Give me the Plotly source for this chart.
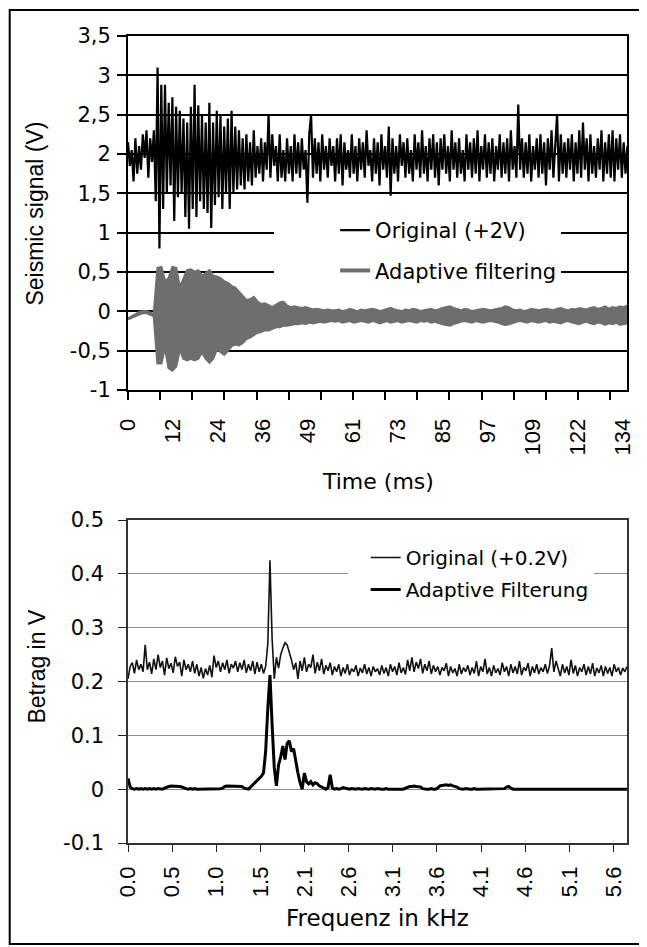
import plotly.graph_objects as go

# ---- top panel: seismic signal over time ----
time_step_ms = 0.5
original_signal = [
    2.15, 1.85, 2.05, 1.65, 2.2, 1.75, 2.1, 1.8, 2.25, 1.95, 2.3, 1.7, 2.2, 1.9, 2.3,
    1.4, 3.1, 0.8, 2.88, 1.3, 2.88, 1.5, 2.65, 1.6, 2.72, 1.15, 2.6, 1.45, 2.55, 1.5,
    2.45, 1.2, 2.4, 1.05, 2.6, 1.3, 2.88, 1.2, 2.62, 1.4, 2.5, 1.3, 2.4, 1.25, 2.65,
    1.06, 2.4, 1.35, 2.55, 1.45, 2.5, 1.3, 2.35, 1.5, 2.45, 1.3, 2.55, 1.5, 2.35, 1.55, 2.3,
    1.6, 2.2, 1.55, 2.25, 1.65, 2.15, 1.6, 2.3, 1.7, 2.1,
    1.75, 2.2, 1.65, 2.15, 1.8, 2.5, 1.7, 2.25, 1.85, 2.1,
    1.65, 2.25, 1.7, 2.05, 1.65, 2.2, 1.75, 2.1, 1.65, 2.25,
    1.75, 2.15, 1.7, 2.2, 1.8, 2.05, 1.38, 2.25, 2.5, 1.7,
    2.2, 1.75, 2.15, 1.65, 2.25, 1.8, 2.1, 1.7, 2.2, 1.85,
    2.1, 1.65, 2.2, 1.75, 2.25, 1.6, 2.15, 1.8, 2.05, 1.7,
    2.25, 1.75, 2.1, 1.65, 2.2, 1.8, 2.15, 1.7, 2.3, 1.85,
    2.05, 1.65, 2.2, 1.75, 2.15, 1.6, 2.25, 1.8, 2.1, 1.7,
    2.35, 1.47, 2.2, 1.75, 2.1, 1.65, 2.25, 1.85, 2.15, 1.7,
    2.2, 1.75, 2.05, 1.65, 2.25, 1.8, 2.15, 1.7, 2.3, 1.75,
    2.1, 1.65, 2.2, 1.8, 2.25, 1.7, 2.15, 1.6, 2.2, 1.8,
    2.25, 1.75, 2.1, 1.65, 2.3, 1.8, 2.15, 1.7, 2.2, 1.75,
    2.05, 1.65, 2.25, 1.8, 2.15, 1.7, 2.2, 1.75, 2.3, 1.65,
    2.1, 1.8, 2.25, 1.7, 2.15, 1.75, 2.2, 1.65, 2.1, 1.8,
    2.25, 1.7, 2.15, 1.75, 2.2, 1.65, 2.3, 1.8, 2.1, 1.7,
    2.63, 1.8, 2.2, 1.7, 2.15, 1.75, 2.25, 1.65, 2.1, 1.8,
    2.2, 1.7, 2.25, 1.75, 2.15, 1.6, 2.2, 1.8, 2.3, 1.7,
    2.1, 2.5, 1.65, 2.25, 1.75, 2.15, 1.7, 2.2, 1.8, 2.25,
    1.65, 2.15, 1.75, 2.3, 1.7, 2.4, 1.8, 2.2, 1.65, 2.25,
    1.75, 2.1, 1.7, 2.2, 1.8, 2.3, 1.65, 2.15, 1.75, 2.25,
    1.7, 2.3, 1.65, 2.2, 1.8, 2.25, 1.7, 2.15, 1.75, 2.1,
]

# adaptive filtering output: upper / lower edge of the dense oscillation, 1 ms apart
envelope_step_ms = 1.0
adaptive_upper = [
    -0.09, -0.07, -0.04, -0.01, 0.0, 0.0, -0.02, -0.04,
    0.55, 0.56, 0.38, 0.42, 0.56, 0.55, 0.3, 0.4, 0.52, 0.53, 0.5, 0.52,
    0.45, 0.48, 0.52, 0.45, 0.44, 0.42, 0.38, 0.36, 0.32, 0.3, 0.25, 0.2,
    0.14, 0.15, 0.18, 0.12, 0.09, 0.1, 0.07, 0.05, 0.08, 0.11, 0.12, 0.07,
    0.05, 0.06, 0.05, 0.04, 0.05, 0.03, 0.02, 0.03, 0.02, 0.01, 0.02, 0.01,
    0.01, 0.02, 0.0, 0.01, 0.03, 0.01, 0.0, 0.02, 0.01, 0.02,
    0.03, 0.02, 0.0, 0.01, 0.03, 0.04, 0.02, 0.01, 0.0, 0.02,
    0.01, 0.03, 0.02, 0.0, 0.01, 0.02, 0.03, 0.01, 0.02, 0.04,
    0.05, 0.06, 0.04, 0.02, 0.01, 0.03, 0.02, 0.0, 0.01, 0.02,
    0.03, 0.02, 0.01, 0.02, 0.03, 0.04, 0.06, 0.05, 0.02, 0.01,
    0.02, 0.0, 0.01, 0.03, 0.02, 0.01, 0.02, 0.03, 0.02, 0.01,
    0.03, 0.04, 0.02, 0.01, 0.03, 0.02, 0.04, 0.03, 0.02, 0.04,
    0.05, 0.03, 0.04, 0.06, 0.03, 0.05, 0.04, 0.06, 0.05, 0.07,
]
adaptive_lower = [
    -0.1, -0.08, -0.06, -0.03, -0.02, -0.02, -0.04, -0.06,
    -0.66, -0.66, -0.45, -0.72, -0.75, -0.7, -0.48, -0.6, -0.62, -0.6, -0.62, -0.6,
    -0.52, -0.6, -0.65, -0.6, -0.48, -0.52, -0.55, -0.5, -0.44, -0.42, -0.43, -0.4,
    -0.35, -0.33, -0.3, -0.27, -0.26, -0.24, -0.24, -0.22, -0.2, -0.2, -0.18, -0.18,
    -0.17, -0.16, -0.16, -0.15, -0.16, -0.14, -0.15, -0.14, -0.13, -0.14, -0.13, -0.12,
    -0.13, -0.12, -0.14, -0.13, -0.12, -0.14, -0.13, -0.12, -0.13, -0.14,
    -0.12, -0.13, -0.15, -0.13, -0.12, -0.14, -0.13, -0.12, -0.14, -0.13,
    -0.12, -0.13, -0.14, -0.12, -0.13, -0.12, -0.14, -0.13, -0.15, -0.16,
    -0.17, -0.18, -0.16, -0.14, -0.13, -0.12, -0.13, -0.14, -0.12, -0.13,
    -0.14, -0.13, -0.12, -0.13, -0.14, -0.16, -0.17, -0.16, -0.14, -0.13,
    -0.12, -0.13, -0.14, -0.12, -0.13, -0.14, -0.13, -0.12, -0.14, -0.13,
    -0.14, -0.15, -0.13, -0.12, -0.14, -0.15, -0.16, -0.14, -0.13, -0.15,
    -0.16, -0.14, -0.15, -0.17, -0.15, -0.16, -0.14, -0.17, -0.16, -0.15,
]

time_tick_vals = [0, 12.15, 24.3, 36.45, 48.6, 60.75, 72.9, 85.05, 97.2, 109.35, 121.5, 133.65]
time_tick_text = ["0", "12", "24", "36", "49", "61", "73", "85", "97", "109", "122", "134"]
signal_tick_vals = [-1, -0.5, 0, 0.5, 1, 1.5, 2, 2.5, 3, 3.5]
signal_tick_text = ["-1", "-0,5", "0", "0,5", "1", "1,5", "2", "2,5", "3", "3,5"]

# ---- bottom panel: amplitude spectrum ----
freq_step_khz = 0.025
spectrum_original = [
    0.205, 0.228, 0.235, 0.215, 0.24, 0.222, 0.232, 0.218, 0.268, 0.222,
    0.236, 0.214, 0.242, 0.222, 0.25, 0.226, 0.238, 0.212, 0.244, 0.224,
    0.234, 0.216, 0.246, 0.228, 0.236, 0.21, 0.24, 0.222, 0.232, 0.218,
    0.238, 0.215, 0.232, 0.21, 0.226, 0.206, 0.224, 0.212, 0.23, 0.208,
    0.248, 0.226, 0.238, 0.218, 0.235, 0.222, 0.24, 0.215, 0.232, 0.225,
    0.238, 0.218, 0.235, 0.222, 0.24, 0.216, 0.232, 0.22, 0.238, 0.214,
    0.236, 0.218, 0.232, 0.215, 0.228, 0.27, 0.425, 0.28, 0.205, 0.245,
    0.225, 0.25, 0.262, 0.272, 0.268, 0.255, 0.24, 0.222, 0.235, 0.205,
    0.238, 0.22, 0.245, 0.218, 0.232, 0.226, 0.25, 0.215, 0.236, 0.22,
    0.242, 0.214, 0.23, 0.22, 0.235, 0.212, 0.228, 0.218, 0.232, 0.21,
    0.226, 0.215, 0.232, 0.212, 0.224, 0.218, 0.23, 0.21, 0.225, 0.216,
    0.232, 0.214, 0.226, 0.21, 0.228, 0.218, 0.224, 0.212, 0.23, 0.215,
    0.226, 0.21, 0.232, 0.218, 0.228, 0.212, 0.235, 0.216, 0.226, 0.213,
    0.24, 0.22, 0.245, 0.218, 0.236, 0.224, 0.242, 0.215, 0.232, 0.22,
    0.238, 0.214, 0.23, 0.218, 0.228, 0.212, 0.226, 0.22, 0.234, 0.21,
    0.228, 0.216, 0.224, 0.21, 0.232, 0.214, 0.226, 0.218, 0.23, 0.212,
    0.226, 0.215, 0.238, 0.21, 0.228, 0.218, 0.242, 0.214, 0.226, 0.21,
    0.23, 0.216, 0.224, 0.212, 0.235, 0.218, 0.228, 0.21, 0.232, 0.216,
    0.228, 0.214, 0.238, 0.212, 0.226, 0.22, 0.234, 0.21, 0.228, 0.216,
    0.232, 0.214, 0.226, 0.218, 0.232, 0.215, 0.23, 0.262, 0.218, 0.238,
    0.226, 0.21, 0.232, 0.216, 0.228, 0.212, 0.24, 0.215, 0.23, 0.21,
    0.226, 0.218, 0.232, 0.212, 0.228, 0.214, 0.234, 0.21, 0.225, 0.216,
    0.23, 0.21, 0.228, 0.215, 0.226, 0.21, 0.232, 0.218, 0.226, 0.212,
    0.225, 0.218, 0.228,
]
spectrum_adaptive = [
    0.02, 0.004, 0.001, 0.0, 0.001, 0.0, 0.001, 0.0, 0.001, 0.0,
    0.001, 0.0, 0.001, 0.0, 0.001, 0.001, 0.0, 0.002, 0.004, 0.005,
    0.006, 0.006, 0.005, 0.006, 0.005, 0.004, 0.002, 0.001, 0.0, 0.001,
    0.0, 0.001, 0.0, 0.0, 0.001, 0.0, 0.001, 0.0, 0.0, 0.001,
    0.0, 0.001, 0.0, 0.001, 0.002, 0.005, 0.006, 0.006, 0.005, 0.006,
    0.006, 0.005, 0.006, 0.005, 0.002, 0.001, 0.0, 0.004, 0.008, 0.012,
    0.016, 0.02, 0.024, 0.03, 0.07, 0.15, 0.212, 0.12, 0.04, 0.006,
    0.045, 0.06, 0.08, 0.055, 0.085, 0.09, 0.07, 0.075, 0.05, 0.03,
    0.012, 0.0, 0.03, 0.014, 0.01, 0.014, 0.008, 0.012, 0.01, 0.006,
    0.004, 0.002, 0.0, 0.003, 0.027, 0.002, 0.0, 0.001, 0.0, 0.001,
    0.003, 0.002, 0.001, 0.0, 0.001, 0.0, 0.0, 0.001, 0.0, 0.0,
    0.001, 0.0, 0.0, 0.001, 0.0, 0.0, 0.001, 0.0, 0.0, 0.0,
    0.001, 0.0, 0.0, 0.001, 0.0, 0.0, 0.0, 0.001, 0.0, 0.002,
    0.004, 0.005, 0.005, 0.006, 0.005, 0.005, 0.004, 0.001, 0.0, 0.0,
    0.0, 0.001, 0.0, 0.0, 0.002, 0.006, 0.007, 0.008, 0.008, 0.007,
    0.008, 0.006, 0.005, 0.004, 0.001, 0.0, 0.0, 0.001, 0.0, 0.0,
    0.0, 0.001, 0.0, 0.0, 0.001, 0.0, 0.0, 0.0, 0.001, 0.0,
    0.0, 0.0, 0.001, 0.0, 0.0, 0.001, 0.004, 0.005, 0.002, 0.0,
    0.0, 0.0, 0.001, 0.0, 0.0, 0.0, 0.001, 0.0, 0.0, 0.0,
    0.0, 0.001, 0.0, 0.0, 0.0, 0.0, 0.001, 0.0, 0.0, 0.0,
    0.001, 0.0, 0.0, 0.0, 0.001, 0.0, 0.0, 0.0, 0.0, 0.001,
    0.0, 0.0, 0.0, 0.001, 0.0, 0.0, 0.0, 0.0, 0.001, 0.0,
    0.0, 0.0, 0.001, 0.0, 0.0, 0.0, 0.0, 0.001, 0.0, 0.0,
    0.0, 0.001, 0.0,
]

freq_tick_vals = [0, 0.513, 1.026, 1.539, 2.052, 2.565, 3.078, 3.591, 4.104, 4.617, 5.13, 5.643]
freq_tick_text = ["0.0", "0.5", "1.0", "1.5", "2.1", "2.6", "3.1", "3.6", "4.1", "4.6", "5.1", "5.6"]
amp_tick_vals = [-0.1, 0, 0.1, 0.2, 0.3, 0.4, 0.5]
amp_tick_text = ["-0.1", "0", "0.1", "0.2", "0.3", "0.4", "0.5"]

time_ms = [i * time_step_ms for i in range(len(original_signal))]
envelope_ms = [i * envelope_step_ms for i in range(len(adaptive_upper))]
freq_khz = [i * freq_step_khz for i in range(len(spectrum_original))]

# page geometry: the html body adds an 8 px margin, so the figure is shrunk by that
PAGE_W, PAGE_H = 647, 947
BODY = 8
FIG_W, FIG_H = PAGE_W - BODY, PAGE_H - BODY
PLOT_LEFT, PLOT_RIGHT, PLOT_TOP, PLOT_BOTTOM = 128, 630, 36, 843  # page pixels
M_L, M_T = PLOT_LEFT - BODY, PLOT_TOP - BODY
M_R, M_B = PAGE_W - PLOT_RIGHT, PAGE_H - PLOT_BOTTOM
PLOT_W = PLOT_RIGHT - PLOT_LEFT
PLOT_H = PLOT_BOTTOM - PLOT_TOP


def px_x(px):
    return (px - PLOT_LEFT) / PLOT_W


def px_y(py):
    return (PLOT_BOTTOM - py) / PLOT_H


GREY = "#6e6e6e"
WIDE = "DejaVu Sans"
NARROW = "Liberation Sans, Arial, sans-serif"

fig = go.Figure()

fig.add_trace(go.Scatter(
    x=time_ms, y=original_signal, mode="lines",
    line=dict(color="black", width=2.2),
    name="Original (+2V)", legend="legend", legendgroup="orig",
))
fig.add_trace(go.Scatter(
    x=envelope_ms, y=adaptive_upper, mode="lines",
    line=dict(color=GREY, width=2.5), showlegend=False, hoverinfo="skip",
))
fig.add_trace(go.Scatter(
    x=envelope_ms, y=adaptive_lower, mode="lines", fill="tonexty", fillcolor=GREY,
    line=dict(color=GREY, width=2.5), showlegend=False, hoverinfo="skip",
))
# legend entry for the filtered band
fig.add_trace(go.Scatter(
    x=[None], y=[None], mode="lines", line=dict(color=GREY, width=4),
    name="Adaptive filtering", legend="legend", legendgroup="adapt",
))

fig.add_trace(go.Scatter(
    x=freq_khz, y=spectrum_original, mode="lines", xaxis="x2", yaxis="y2",
    line=dict(color="#111111", width=1.6),
    name="Original (+0.2V)", legend="legend2", legendgroup="orig2",
))
fig.add_trace(go.Scatter(
    x=freq_khz, y=spectrum_adaptive, mode="lines", xaxis="x2", yaxis="y2",
    line=dict(color="black", width=3),
    name="Adaptive Filterung", legend="legend2", legendgroup="adapt2",
))

fig.update_layout(
    width=FIG_W, height=FIG_H,
    margin=dict(l=M_L, r=M_R, t=M_T, b=M_B),
    paper_bgcolor="white", plot_bgcolor="white",
    xaxis=dict(
        domain=[0, 1], anchor="y", range=[0, 134.9],
        tickmode="array", tickvals=time_tick_vals, ticktext=time_tick_text,
        tickangle=-90, ticks="outside", ticklen=8, tickcolor="rgba(0,0,0,0)",
        ticklabelstandoff=10,
        minor=dict(ticks="outside", ticklen=8, tickwidth=2, tickcolor="black",
                   tick0=0, dtick=8.69, showgrid=False),
        showgrid=False, zeroline=False,
        showline=True, linecolor="black", linewidth=2, mirror=True,
        tickfont=dict(family=NARROW, size=22, color="black"),
    ),
    yaxis=dict(
        domain=[px_y(390), 1], anchor="x", range=[-1, 3.5],
        tickmode="array", tickvals=signal_tick_vals, ticktext=signal_tick_text,
        ticks="outside", ticklen=9, tickwidth=2, tickcolor="black",
        ticklabelstandoff=2,
        showgrid=True, gridcolor="black", gridwidth=2, zeroline=False,
        showline=True, linecolor="black", linewidth=2, mirror=True,
        tickfont=dict(family=WIDE, size=21, color="black"),
    ),
    xaxis2=dict(
        domain=[0, 1], anchor="y2", range=[0, 5.8],
        tickmode="array", tickvals=freq_tick_vals, ticktext=freq_tick_text,
        tickangle=-90, ticks="outside", ticklen=7, tickwidth=1.2, tickcolor="#222222",
        ticklabelstandoff=6,
        showgrid=False, zeroline=False,
        showline=True, linecolor="#333333", linewidth=1.5, mirror=True,
        tickfont=dict(family=NARROW, size=22, color="black"),
    ),
    yaxis2=dict(
        domain=[0, px_y(520)], anchor="x2", range=[-0.1, 0.5],
        tickmode="array", tickvals=amp_tick_vals, ticktext=amp_tick_text,
        ticks="outside", ticklen=8, tickwidth=1.2, tickcolor="#222222",
        ticklabelstandoff=10,
        showgrid=True, gridcolor="#8a8a8a", gridwidth=1, zeroline=False,
        showline=True, linecolor="#333333", linewidth=1.5, mirror=True,
        tickfont=dict(family=WIDE, size=21, color="black"),
    ),
    # white legend boxes, wider on the left like the original, hide the gridlines
    legend=dict(
        x=px_x(275), y=px_y(210), xanchor="left", yanchor="top",
        bgcolor="white", borderwidth=0, indentation=61, entrywidth=215,
        traceorder="grouped", tracegroupgap=10,
        font=dict(family=WIDE, size=21, color="black"),
    ),
    legend2=dict(
        x=px_x(349), y=px_y(538), xanchor="left", yanchor="top",
        bgcolor="white", borderwidth=0, indentation=18,
        traceorder="grouped", tracegroupgap=3,
        font=dict(family=WIDE, size=20, color="black"),
    ),
    annotations=[
        dict(text="Seismic signal (V)", x=px_x(34), y=px_y(214), xref="paper", yref="paper",
             textangle=-90, showarrow=False, xanchor="center", yanchor="middle",
             font=dict(family=NARROW, size=23, color="black")),
        dict(text="Time (ms)", x=px_x(379), y=px_y(481), xref="paper", yref="paper",
             showarrow=False, xanchor="center", yanchor="middle",
             font=dict(family=WIDE, size=22, color="black")),
        dict(text="Betrag in V", x=px_x(36), y=px_y(667), xref="paper", yref="paper",
             textangle=-90, showarrow=False, xanchor="center", yanchor="middle",
             font=dict(family=NARROW, size=23, color="black")),
        dict(text="Frequenz in kHz", x=px_x(379), y=px_y(918), xref="paper", yref="paper",
             showarrow=False, xanchor="center", yanchor="middle",
             font=dict(family=WIDE, size=23, color="black")),
    ],
    shapes=[
        # outer frame
        dict(type="rect", xref="paper", yref="paper", layer="above",
             x0=px_x(BODY + 1), x1=px_x(645), y0=px_y(944), y1=px_y(10),
             line=dict(color="black", width=2)),
    ],
)

fig.write_html("out.html")
